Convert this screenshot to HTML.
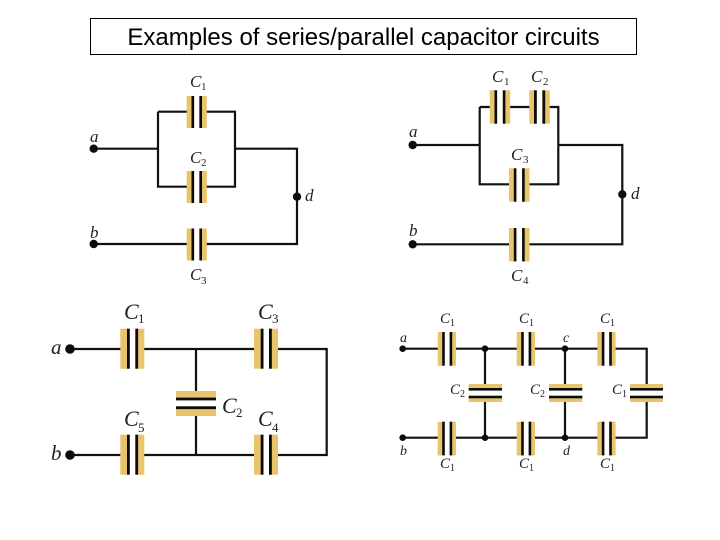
<!DOCTYPE html>
<html>
<head>
<meta charset="utf-8">
<style>
html,body{margin:0;padding:0;background:#fff;width:720px;height:540px;overflow:hidden}
svg{display:block}
text{font-family:"Liberation Serif",serif;font-style:italic;fill:#222}
.t{font-family:"Liberation Sans",sans-serif;font-size:24px;font-style:normal;fill:#000}
.c1{font-size:17px}.s1{font-size:11px;font-style:normal}
.c3{font-size:22px}.s3{font-size:13px;font-style:normal}
.c4{font-size:15px}.s4{font-size:10px;font-style:normal}
.l1{font-size:17px}.l3{font-size:21px}.l4{font-size:14px}
.w{fill:none;stroke:#111;stroke-linejoin:miter}
.tan{fill:#e8c56c}
.p{fill:#0c0c0c}
</style>
</head>
<body>
<svg width="720" height="540" viewBox="0 0 720 540" xmlns="http://www.w3.org/2000/svg">
<rect x="90.5" y="18.5" width="546" height="36" fill="#fff" stroke="#000"/>
<text class="t" x="363.5" y="45" text-anchor="middle">Examples of series/parallel capacitor circuits</text>

<!-- Diagram 1 -->
<g class="w" stroke-width="2.2">
<path d="M94 148.7H158M158 111.7H192.7M200.7 111.7H235V186.7H200.7M192.7 186.7H158V111.7M235 148.7H297V244H200.7M192.7 244H94"/>
</g>
<g>
<rect class="tan" x="186.7" y="96" width="7.5" height="32"/><rect class="tan" x="199.3" y="96" width="7.5" height="32"/>
<rect class="p" x="191.5" y="96" width="2.6" height="32"/><rect class="p" x="199.4" y="96" width="2.6" height="32"/>
<rect class="tan" x="186.7" y="171" width="7.5" height="32"/><rect class="tan" x="199.3" y="171" width="7.5" height="32"/>
<rect class="p" x="191.5" y="171" width="2.6" height="32"/><rect class="p" x="199.4" y="171" width="2.6" height="32"/>
<rect class="tan" x="186.7" y="228.5" width="7.5" height="32"/><rect class="tan" x="199.3" y="228.5" width="7.5" height="32"/>
<rect class="p" x="191.5" y="228.5" width="2.6" height="32"/><rect class="p" x="199.4" y="228.5" width="2.6" height="32"/>
</g>
<circle class="p" cx="93.7" cy="148.7" r="4.2"/><circle class="p" cx="93.7" cy="244" r="4.2"/><circle class="p" cx="297" cy="196.7" r="4.2"/>
<text class="c1" x="190" y="87">C</text><text class="s1" x="201" y="90">1</text>
<text class="c1" x="190" y="163">C</text><text class="s1" x="201" y="166">2</text>
<text class="c1" x="190" y="280">C</text><text class="s1" x="201" y="284">3</text>
<text class="l1" x="90" y="142">a</text><text class="l1" x="90" y="238">b</text><text class="l1" x="305" y="201">d</text>

<!-- Diagram 2 -->
<g class="w" stroke-width="2.2">
<path d="M413 145H479.7M479.7 107H495.5M504.5 107H535M544 107H558.3V184.3H523M515 184.3H479.7V107M558.3 145H622.3V244.3H523M515 244.3H413"/>
</g>
<g>
<rect class="tan" x="489.7" y="90.3" width="7.5" height="33.4"/><rect class="tan" x="502.7" y="90.3" width="7.5" height="33.4"/>
<rect class="p" x="494.5" y="90.3" width="2.6" height="33.4"/><rect class="p" x="502.8" y="90.3" width="2.6" height="33.4"/>
<rect class="tan" x="529.3" y="90.3" width="7.5" height="33.4"/><rect class="tan" x="542.3" y="90.3" width="7.5" height="33.4"/>
<rect class="p" x="534" y="90.3" width="2.8" height="33.4"/><rect class="p" x="542.4" y="90.3" width="2.8" height="33.4"/>
<rect class="tan" x="509" y="168.3" width="7.5" height="33.4"/><rect class="tan" x="522" y="168.3" width="7.5" height="33.4"/>
<rect class="p" x="513.8" y="168.3" width="2.6" height="33.4"/><rect class="p" x="522.1" y="168.3" width="2.6" height="33.4"/>
<rect class="tan" x="509" y="228" width="7.5" height="33.4"/><rect class="tan" x="522" y="228" width="7.5" height="33.4"/>
<rect class="p" x="513.8" y="228" width="2.6" height="33.4"/><rect class="p" x="522.1" y="228" width="2.6" height="33.4"/>
</g>
<circle class="p" cx="412.7" cy="145" r="4.2"/><circle class="p" cx="412.7" cy="244.3" r="4.2"/><circle class="p" cx="622.3" cy="194.3" r="4.2"/>
<text class="c1" x="492" y="82">C</text><text class="s1" x="504" y="85">1</text>
<text class="c1" x="531" y="82">C</text><text class="s1" x="543" y="85">2</text>
<text class="c1" x="511" y="160">C</text><text class="s1" x="523" y="163">3</text>
<text class="c1" x="511" y="281">C</text><text class="s1" x="523" y="284">4</text>
<text class="l1" x="409" y="137">a</text><text class="l1" x="409" y="236">b</text><text class="l1" x="631" y="199">d</text>

<!-- Diagram 3 -->
<g class="w" stroke-width="2.2">
<path d="M70 349H128M137 349H262M270 349H326.7V455H270M262 455H137M128 455H70M196 349V399M196 408V455"/>
</g>
<g>
<rect class="tan" x="120.3" y="328.7" width="8.5" height="40"/><rect class="tan" x="136" y="328.7" width="8.3" height="40"/>
<rect class="p" x="127" y="328.7" width="2.8" height="40"/><rect class="p" x="135.3" y="328.7" width="2.8" height="40"/>
<rect class="tan" x="254" y="328.7" width="8.5" height="40"/><rect class="tan" x="269.7" y="328.7" width="8.3" height="40"/>
<rect class="p" x="260.7" y="328.7" width="2.8" height="40"/><rect class="p" x="269" y="328.7" width="2.8" height="40"/>
<rect class="tan" x="120.3" y="434.7" width="8.5" height="40"/><rect class="tan" x="136" y="434.7" width="8.3" height="40"/>
<rect class="p" x="127" y="434.7" width="2.8" height="40"/><rect class="p" x="135.3" y="434.7" width="2.8" height="40"/>
<rect class="tan" x="254" y="434.7" width="8.5" height="40"/><rect class="tan" x="269.7" y="434.7" width="8.3" height="40"/>
<rect class="p" x="260.7" y="434.7" width="2.8" height="40"/><rect class="p" x="269" y="434.7" width="2.8" height="40"/>
<rect class="tan" x="176" y="391" width="40" height="8"/><rect class="tan" x="176" y="408" width="40" height="8"/>
<rect class="p" x="176" y="397.6" width="40" height="2.8"/><rect class="p" x="176" y="406.3" width="40" height="2.8"/>
</g>
<circle class="p" cx="70" cy="349" r="4.8"/><circle class="p" cx="70" cy="455" r="4.8"/>
<text class="c3" x="124" y="319">C</text><text class="s3" x="138" y="323">1</text>
<text class="c3" x="258" y="319">C</text><text class="s3" x="272" y="323">3</text>
<text class="c3" x="222" y="413">C</text><text class="s3" x="236" y="417">2</text>
<text class="c3" x="124" y="426">C</text><text class="s3" x="138" y="432">5</text>
<text class="c3" x="258" y="426">C</text><text class="s3" x="272" y="432">4</text>
<text class="l3" x="51" y="354">a</text><text class="l3" x="51" y="460">b</text>

<!-- Diagram 4 -->
<g class="w" stroke-width="2.2">
<path d="M403 348.7H443M451 348.7H522M530 348.7H602.5M610.5 348.7H646.7V389M646.7 397V437.7H610.5M602.5 437.7H530M522 437.7H451M443 437.7H403M485 348.7V389M485 397V437.7M565 348.7V389M565 397V437.7"/>
</g>
<g>
<rect class="tan" x="437.7" y="332" width="6" height="33.7"/><rect class="tan" x="450" y="332" width="6" height="33.7"/>
<rect class="p" x="442.2" y="332" width="2.6" height="33.7"/><rect class="p" x="449.6" y="332" width="2.6" height="33.7"/>
<rect class="tan" x="516.7" y="332" width="6" height="33.7"/><rect class="tan" x="529" y="332" width="6" height="33.7"/>
<rect class="p" x="521.2" y="332" width="2.6" height="33.7"/><rect class="p" x="528.6" y="332" width="2.6" height="33.7"/>
<rect class="tan" x="597.3" y="332" width="6" height="33.7"/><rect class="tan" x="609.6" y="332" width="6" height="33.7"/>
<rect class="p" x="601.8" y="332" width="2.6" height="33.7"/><rect class="p" x="609.2" y="332" width="2.6" height="33.7"/>
<rect class="tan" x="437.7" y="421.7" width="6" height="33.7"/><rect class="tan" x="450" y="421.7" width="6" height="33.7"/>
<rect class="p" x="442.2" y="421.7" width="2.6" height="33.7"/><rect class="p" x="449.6" y="421.7" width="2.6" height="33.7"/>
<rect class="tan" x="516.7" y="421.7" width="6" height="33.7"/><rect class="tan" x="529" y="421.7" width="6" height="33.7"/>
<rect class="p" x="521.2" y="421.7" width="2.6" height="33.7"/><rect class="p" x="528.6" y="421.7" width="2.6" height="33.7"/>
<rect class="tan" x="597.3" y="421.7" width="6" height="33.7"/><rect class="tan" x="609.6" y="421.7" width="6" height="33.7"/>
<rect class="p" x="601.8" y="421.7" width="2.6" height="33.7"/><rect class="p" x="609.2" y="421.7" width="2.6" height="33.7"/>
<rect class="tan" x="468.7" y="384" width="33.3" height="6"/><rect class="tan" x="468.7" y="396" width="33.3" height="6"/>
<rect class="p" x="468.7" y="388" width="33.3" height="2.6"/><rect class="p" x="468.7" y="395.7" width="33.3" height="2.6"/>
<rect class="tan" x="549" y="384" width="33.3" height="6"/><rect class="tan" x="549" y="396" width="33.3" height="6"/>
<rect class="p" x="549" y="388" width="33.3" height="2.6"/><rect class="p" x="549" y="395.7" width="33.3" height="2.6"/>
<rect class="tan" x="630" y="384" width="33" height="6"/><rect class="tan" x="630" y="396" width="33" height="6"/>
<rect class="p" x="630" y="388" width="33" height="2.6"/><rect class="p" x="630" y="395.7" width="33" height="2.6"/>
</g>
<circle class="p" cx="402.7" cy="348.7" r="3.3"/><circle class="p" cx="402.7" cy="437.7" r="3.3"/>
<circle class="p" cx="485" cy="348.7" r="3.3"/><circle class="p" cx="565" cy="348.7" r="3.3"/>
<circle class="p" cx="485" cy="437.7" r="3.3"/><circle class="p" cx="565" cy="437.7" r="3.3"/>
<text class="c4" x="440" y="323">C</text><text class="s4" x="450" y="326">1</text>
<text class="c4" x="519" y="323">C</text><text class="s4" x="529" y="326">1</text>
<text class="c4" x="600" y="323">C</text><text class="s4" x="610" y="326">1</text>
<text class="c4" x="440" y="468">C</text><text class="s4" x="450" y="471">1</text>
<text class="c4" x="519" y="468">C</text><text class="s4" x="529" y="471">1</text>
<text class="c4" x="600" y="468">C</text><text class="s4" x="610" y="471">1</text>
<text class="c4" x="450" y="394">C</text><text class="s4" x="460" y="397">2</text>
<text class="c4" x="530" y="394">C</text><text class="s4" x="540" y="397">2</text>
<text class="c4" x="612" y="394">C</text><text class="s4" x="622" y="397">1</text>
<text class="l4" x="400" y="342">a</text><text class="l4" x="400" y="455">b</text>
<text class="l4" x="563" y="342">c</text><text class="l4" x="563" y="455">d</text>
</svg>
</body>
</html>
